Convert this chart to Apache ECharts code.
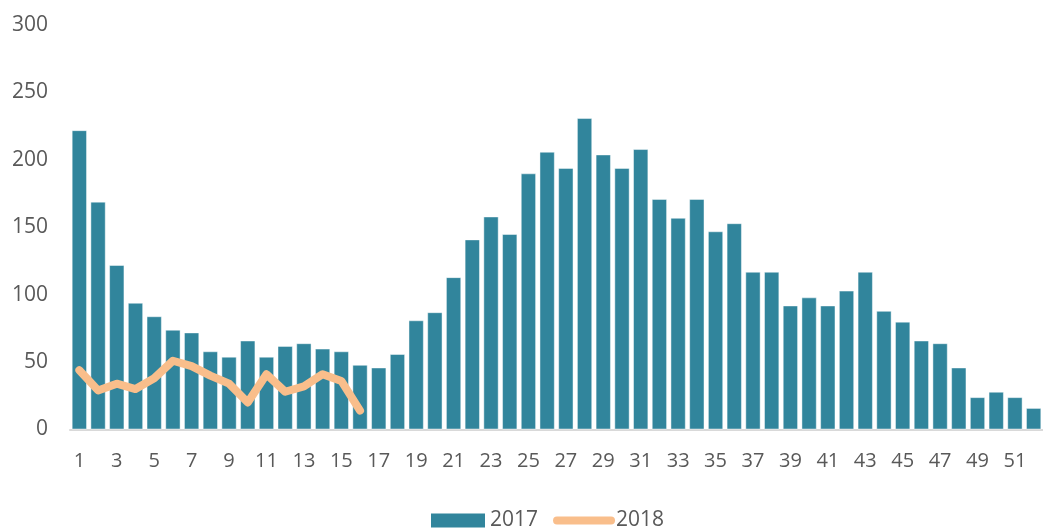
<!DOCTYPE html>
<html>
<head>
<meta charset="utf-8">
<style>
  html, body { margin: 0; padding: 0; background: #fff; }
  #chart { width: 1043px; height: 529px; }
</style>
<script src="https://cdn.jsdelivr.net/npm/echarts@6/dist/echarts.min.js"></script>
</head>
<body>
<div id="chart"></div>
<script>
// week numbers
var weeks = [];
for (var i = 1; i <= 52; i++) weeks.push(String(i));

// 2017 weekly values (bars)
var values2017 = [222, 169, 122, 94, 84, 74, 72, 58, 54, 66,
  54, 62, 64, 60, 58, 48, 46, 56, 81, 87,
  113, 141, 158, 145, 190, 206, 194, 231, 204, 194,
  208, 171, 157, 171, 147, 153, 117, 117, 92, 98,
  92, 103, 117, 88, 80, 66, 64, 46, 24, 28,
  24, 16];

// 2018 weekly values (line, only first 16 weeks)
var values2018 = [44, 29, 34, 30, 38, 51, 47, 40, 34, 20, 41, 28, 32, 41, 36, 14];

var yTicks = { min: 0, max: 300, step: 50 };

var textColor = "#595959";
var fontFamily = "'Open Sans', sans-serif";

var myChart = echarts.init(document.getElementById("chart"));
var option = {
  animation: false,
  textStyle: { fontFamily: fontFamily },
  grid: {
    left: 70,
    top: 25,
    width: 977,
    height: 404.5,
    containLabel: false
  },
  legend: {
    left: 426,
    top: 505,
    itemWidth: 54,
    itemHeight: 14,
    itemGap: 15,
    textStyle: { color: textColor, fontSize: 21, fontFamily: fontFamily },
    data: [
      { name: "2017", icon: "rect", itemStyle: { borderWidth: 0 } },
      { name: "2018", itemStyle: { opacity: 0 }, lineStyle: { width: 8, cap: "round" } }
    ]
  },
  xAxis: {
    type: "category",
    data: weeks,
    axisLine: { lineStyle: { color: "#d9d9d9", width: 2 } },
    axisTick: { show: false },
    axisLabel: {
      interval: 1,
      color: textColor,
      fontSize: 20,
      margin: 22
    }
  },
  yAxis: {
    type: "value",
    min: yTicks.min,
    max: yTicks.max,
    interval: yTicks.step,
    splitLine: { show: false },
    axisLine: { show: false },
    axisTick: { show: false },
    axisLabel: {
      color: textColor,
      fontSize: 21,
      margin: 22
    }
  },
  series: [
    {
      name: "2017",
      type: "bar",
      data: values2017,
      barCategoryGap: "18%",
      itemStyle: {
        color: "#31859c",
        borderColor: "rgba(255,255,255,0.45)",
        borderWidth: 1
      }
    },
    {
      name: "2018",
      type: "line",
      data: values2018,
      symbol: "none",
      z: 3,
      lineStyle: {
        color: "#f9be8b",
        width: 8,
        cap: "round",
        join: "round"
      },
      itemStyle: { color: "#f9be8b" }
    }
  ]
};
myChart.setOption(option);
</script>
</body>
</html>
